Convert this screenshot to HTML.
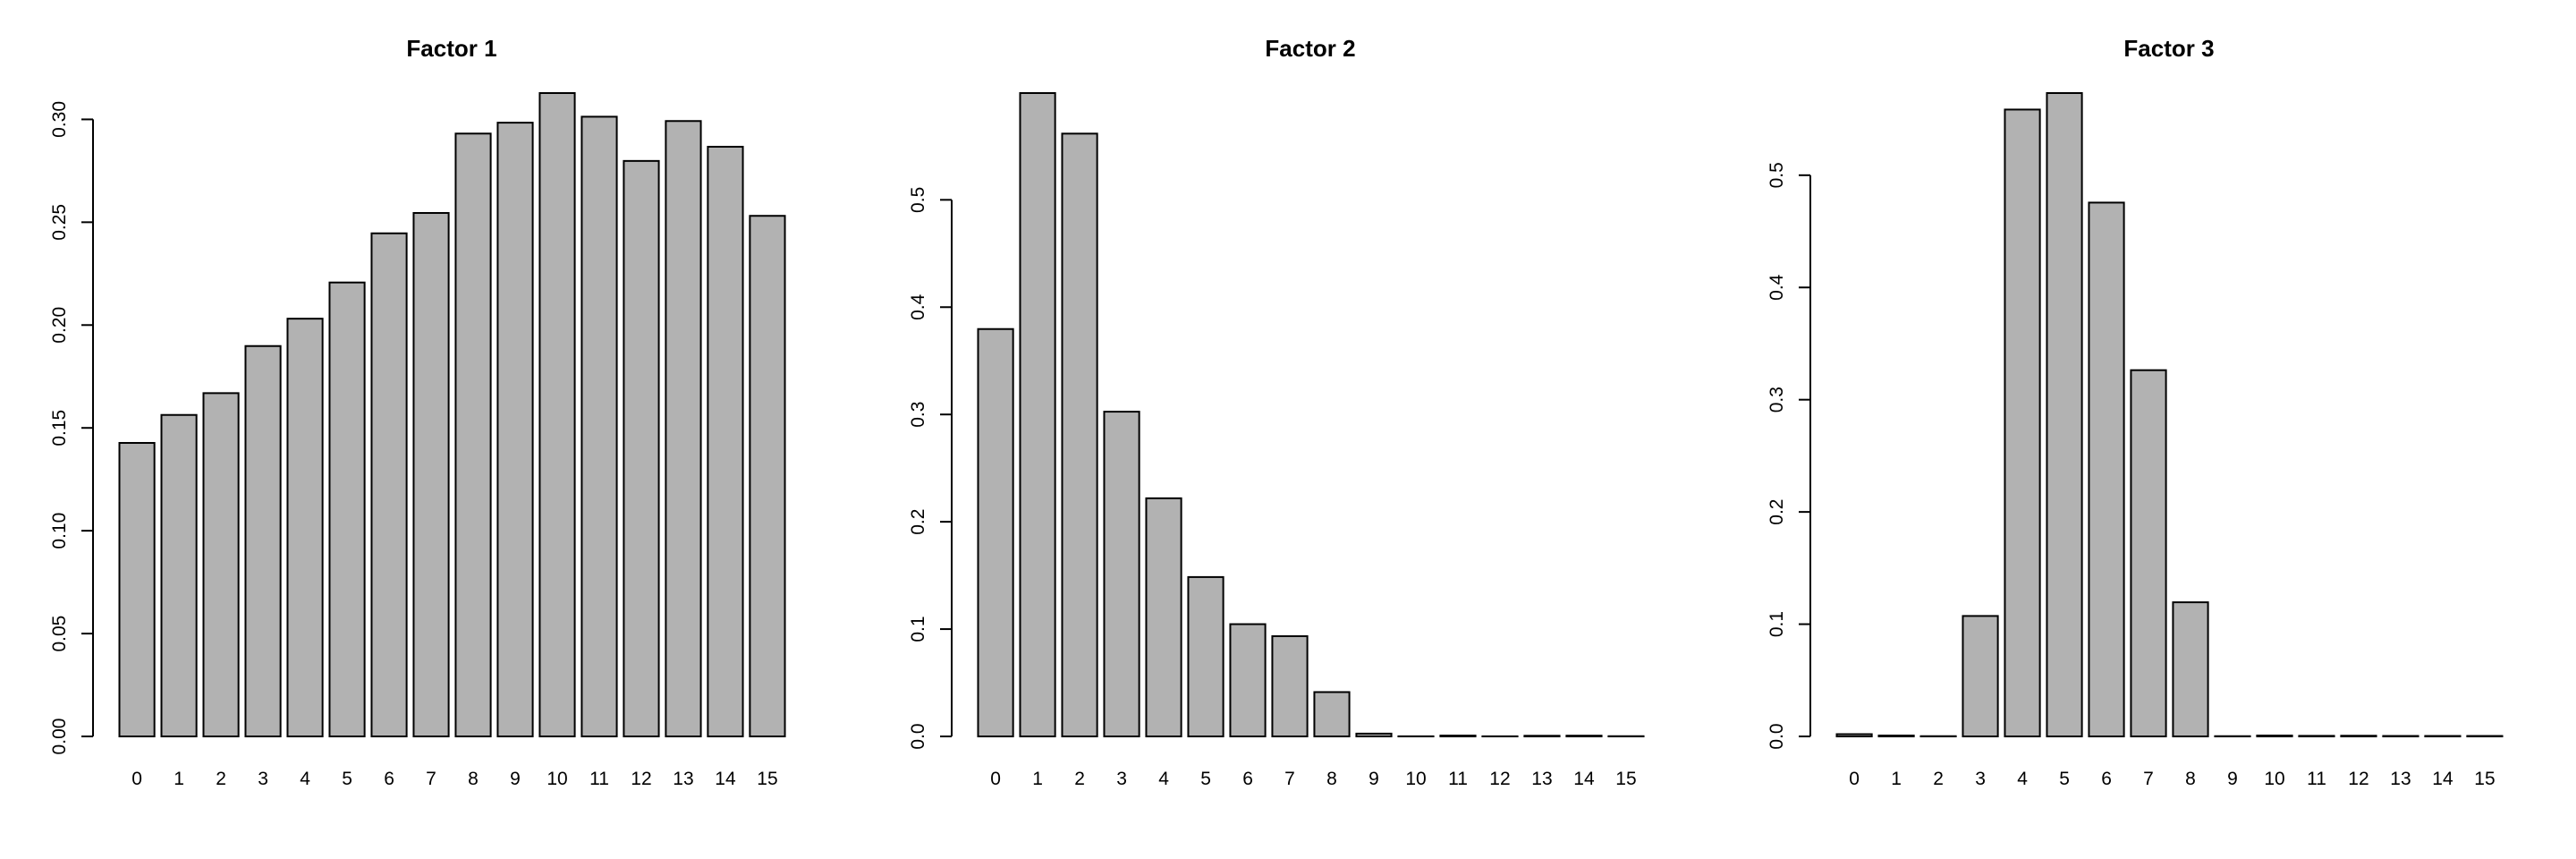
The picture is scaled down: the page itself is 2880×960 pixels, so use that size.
<!DOCTYPE html>
<html><head><meta charset="utf-8"><style>
html,body{margin:0;padding:0;background:#fff;}
svg{display:block;}
text{font-family:"Liberation Sans",Arial,sans-serif;fill:#000;}
</style></head><body>
<svg id="chart" width="2880" height="960" viewBox="0 0 2880 960" xmlns="http://www.w3.org/2000/svg"></svg>
<script>
const categories = ["0","1","2","3","4","5","6","7","8","9","10","11","12","13","14","15"];
const titles = ["Factor 1","Factor 2","Factor 3"];
const factor1 = [0.1427,0.1563,0.1669,0.1898,0.2031,0.2207,0.2446,0.2545,0.2931,0.2984,0.3128,0.3013,0.2798,0.2992,0.2867,0.2531];
const factor2 = [0.3796,0.5995,0.5617,0.3026,0.2219,0.1485,0.1046,0.0934,0.0413,0.0026,0.0001,0.0008,0.0001,0.0006,0.0007,0.0002];
const factor3 = [0.0020,0.0008,0.0002,0.1073,0.5585,0.5732,0.4756,0.3263,0.1195,0.0002,0.0008,0.0005,0.0006,0.0004,0.0004,0.0004];
const ticks1 = ["0.00","0.05","0.10","0.15","0.20","0.25","0.30"];
const ticks2 = ["0.0","0.1","0.2","0.3","0.4","0.5"];
const ticks3 = ["0.0","0.1","0.2","0.3","0.4","0.5"];

const NS = "http://www.w3.org/2000/svg";
const svg = document.getElementById("chart");
function mk(tag, attrs, parent){
  const e = document.createElementNS(NS, tag);
  for (const k in attrs) e.setAttribute(k, attrs[k]);
  parent.appendChild(e);
  return e;
}
const series = [factor1, factor2, factor3];
const tickSets = [ticks1, ticks2, ticks3];
const baseY = 823, topY = 104, unit = 39.16, barLeft0 = 133.5;

series.forEach((vals, p) => {
  const ox = p * 960;
  const g = mk("g", {}, svg);
  
  
  const maxV = Math.max(...vals);
  const yScale = v => baseY - v * (baseY - topY) / maxV;
  const xLeft = i => ox + barLeft0 + i * 1.2 * unit;

  const t = mk("text", {x: ox + 505, y: 63, "text-anchor": "middle", "font-size": 26, "font-weight": "bold"}, g);
  t.textContent = titles[p];
  
  

  vals.forEach((v, i) => {
    const y = yScale(v);
    const r = mk("rect", {x: xLeft(i), y: y, width: unit, height: Math.max(baseY - y, 0.01), fill: "#b2b2b2", stroke: "#000", "stroke-width": 2}, g);
    
    
    const lb = mk("text", {x: xLeft(i) + unit / 2, y: 877, "text-anchor": "middle", "font-size": 21}, g);
    lb.textContent = categories[i];
    
    
  });

  const ticks = tickSets[p];
  const ax = ox + 104;
  const tv = ticks.map(Number);
  const axis = mk("line", {x1: ax, x2: ax, y1: yScale(tv[0]), y2: yScale(tv[tv.length - 1]), stroke: "#000", "stroke-width": 2}, g);
  
  
  ticks.forEach((lab, k) => {
    const y = yScale(tv[k]);
    const tk = mk("line", {x1: ax - 13, x2: ax, y1: y, y2: y, stroke: "#000", "stroke-width": 2}, g);
    
    
    const tl = mk("text", {x: ox + 73, y: y, "text-anchor": "middle", "font-size": 21, transform: "rotate(-90 " + (ox + 73) + " " + y + ")"}, g);
    tl.textContent = lab;
    
    
  });
});
</script>
</body></html>
